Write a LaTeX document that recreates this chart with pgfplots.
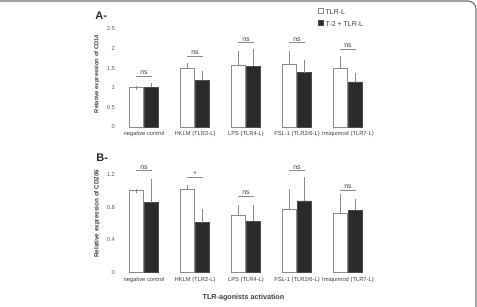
\documentclass[border=0pt]{standalone}
\usepackage{pgfplots}
\pgfplotsset{compat=1.18}
\usepackage{pgfplotstable}
\usepackage{fontspec}
\setmainfont{Liberation Sans}

\definecolor{txt}{HTML}{404040}
\definecolor{edge}{HTML}{8C8C8C}
\definecolor{darkbar}{HTML}{2A2A2A}

% cat  white  white_err  dark  dark_err
\pgfplotstableread{
cat w    we   b     be
0   1.00 0.00 1.01  0.06
1   1.49 0.08 1.19  0.19
2   1.58 0.30 1.55  0.38
3   1.60 0.30 1.39  0.27
4   1.49 0.28 1.15  0.18
}\cdfourteen
\pgfplotstableread{
cat w    we   b     be
0   1.00 0.00 0.855 0.26
1   1.02 0.03 0.61  0.14
2   0.70 0.10 0.63  0.17
3   0.77 0.23 0.875 0.265
4   0.73 0.20 0.76  0.11
}\cdtwohundredsix

% half a bar pair offset, in category units (7.5pt of 51pt spacing)
\def\off{0.147}

\pgfplotsset{
  panel/.style={
    scale only axis, width=255pt, height=98pt,
    xmin=-0.5, xmax=4.5, ymin=0,
    axis line style={draw=none}, tick style={draw=none},
    xtick={0,...,4},
    xticklabels={negative control, HKLM (TLR2-L), LPS (TLR4-L), FSL-1 (TLR2/6-L), Imiquimod (TLR7-L)},
    x tick label style={font=\fontsize{5.8}{6}\selectfont, text=txt, yshift=-1pt},
    y tick label style={font=\fontsize{5.8}{6}\selectfont, text=txt!85},
    /pgf/number format/assume math mode=true,
    clip=false,
  },
  errs/.style={error bars/.cd, y dir=plus, y explicit,
    error bar style={draw=edge, line width=0.6pt},
    error mark options={mark size=2pt, draw=edge}},
  whitebar/.style={ybar, bar width=14pt, bar shift=0pt, fill=white, draw=edge, line width=0.6pt, errs},
  darkbar/.style={ybar, bar width=14pt, bar shift=0pt, fill=darkbar, draw=black!70, line width=0.4pt, errs},
}
\newcommand{\sig}[3]{%
  \draw[edge, line width=0.6pt] (axis cs:#1-0.15,#2) -- (axis cs:#1+0.15,#2)
    node[midway, above, inner sep=1.2pt, text=txt, font=\fontsize{7}{8}\selectfont] {#3};}

\begin{document}
\begin{tikzpicture}
\useasboundingbox (0,0) rectangle (477pt,307pt);
\draw[black!55, line width=1.2pt] (0,306pt) -- (468pt,306pt) arc[start angle=90, end angle=0, radius=8pt] -- (476pt,0);

% Panel A: CD14
\begin{axis}[panel, at={(118.5pt,180pt)}, anchor=south west,
  ymax=2.5, ytick={0,0.5,...,2.5},
  yticklabels={0,0.5,1,1.5,2,2.5},
  ylabel={Relative expression of CD14},
  every axis y label/.style={at={(axis description cs:0,0.54)}, xshift=-21.5pt, rotate=90, anchor=center,
    font=\bfseries\fontsize{5.8}{6}\selectfont, text=txt},
  legend style={at={(rel axis cs:0.78,1.215)}, anchor=north west, draw=none, fill=none,
    font=\fontsize{7}{8}\selectfont, text=txt, row sep=1.5pt, inner sep=0pt,
    nodes={inner xsep=2.2pt}},
  legend cell align=left,
  legend image code/.code={\draw[#1] (0pt,-0.3pt) rectangle (5.2pt,4.9pt);},
]
\addplot[whitebar] table[x expr=\thisrow{cat}-\off, y=w, y error=we] {\cdfourteen};
\addplot[darkbar] table[x expr=\thisrow{cat}+\off, y=b, y error=be] {\cdfourteen};
\legend{TLR-L, T-2 + TLR-L}
\sig{0}{1.30}{ns}
\sig{1}{1.81}{ns}
\sig{2}{2.15}{ns}
\sig{3}{2.15}{ns}
\sig{4}{1.99}{ns}
\node[font=\bfseries\fontsize{11}{12}\selectfont, text=black!85] at (rel axis cs:-0.068,1.14) {A-};
\end{axis}

% Panel B: CD206
\begin{axis}[panel, at={(118.5pt,34.3pt)}, anchor=south west, height=98.4pt,
  ymax=1.2, ytick={0,0.4,0.8,1.2},
  yticklabels={0,0.4,0.8,1.2},
  ylabel={Relative expression of CD206},
  every axis y label/.style={at={(axis description cs:0,0.6)}, xshift=-21.5pt, rotate=90, anchor=center,
    font=\bfseries\fontsize{6.3}{7}\selectfont, text=txt},
  xlabel={TLR-agonists activation},
  every axis x label/.style={at={(axis description cs:0.49,0)}, yshift=-24.5pt, anchor=center,
    font=\bfseries\fontsize{7.2}{8}\selectfont, text=txt},
]
\addplot[whitebar] table[x expr=\thisrow{cat}-\off, y=w, y error=we] {\cdtwohundredsix};
\addplot[darkbar] table[x expr=\thisrow{cat}+\off, y=b, y error=be] {\cdtwohundredsix};
\sig{0}{1.245}{ns}
\sig{1}{1.16}{*}
\sig{2}{0.93}{ns}
\sig{3}{1.245}{ns}
\sig{4}{1.01}{ns}
\node[font=\bfseries\fontsize{11}{12}\selectfont, text=black!85] at (rel axis cs:-0.064,1.17) {B-};
\end{axis}
\end{tikzpicture}
\end{document}
